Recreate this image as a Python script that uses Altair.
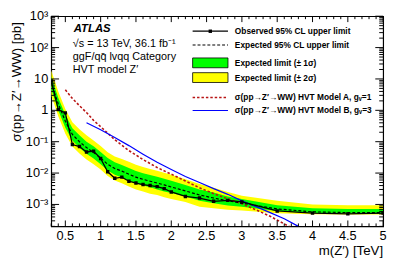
import altair as alt
import pandas as pd
import numpy as np

# ---------------- data ----------------
mass = [0.3, 0.4, 0.5, 0.6, 0.7, 0.8, 0.9, 1.0, 1.1, 1.2, 1.3, 1.4, 1.5, 1.6, 1.7,
        1.8, 1.9, 2.0, 2.2, 2.4, 2.6, 2.8, 3.0, 3.5, 4.0, 4.5, 5.0]
observed = [8.7, 1.05, 0.83, 0.081, 0.07, 0.047, 0.05, 0.029, 0.011, 0.0068, 0.0074,
            0.0055, 0.0048, 0.0043, 0.0040, 0.0037, 0.0032, 0.0025, 0.0018, 0.0016,
            0.00126, 0.00135, 0.0012, 0.00062, 0.00053, 0.00050, 0.00053]
expected = [7.5, 1.6, 0.45, 0.17, 0.10, 0.065, 0.045, 0.030, 0.019, 0.014, 0.0115,
            0.0092, 0.0074, 0.0063, 0.0055, 0.0048, 0.0042, 0.0036, 0.0027, 0.0020,
            0.0016, 0.0013, 0.0011, 0.00072, 0.00058, 0.00055, 0.00055]
minus2 = [3.0, 0.65, 0.18, 0.07, 0.042, 0.027, 0.019, 0.013, 0.008, 0.0058, 0.0047,
          0.0037, 0.0030, 0.0026, 0.0022, 0.0020, 0.0017, 0.0015, 0.0012, 0.00085,
          0.00075, 0.00068, 0.00064, 0.00052, 0.00049, 0.00048, 0.00048]
minus1 = [4.7, 1.0, 0.28, 0.11, 0.064, 0.041, 0.029, 0.019, 0.012, 0.0088, 0.0072,
          0.0058, 0.0047, 0.0040, 0.0035, 0.0030, 0.0026, 0.0023, 0.0018, 0.0013,
          0.0011, 0.00092, 0.00085, 0.00062, 0.00053, 0.00051, 0.00051]
plus1 = [12, 2.5, 0.72, 0.27, 0.16, 0.10, 0.071, 0.047, 0.030, 0.022, 0.018, 0.0145,
         0.0117, 0.0099, 0.0087, 0.0076, 0.0066, 0.0057, 0.0042, 0.0030, 0.0024,
         0.0018, 0.0015, 0.00095, 0.00075, 0.00072, 0.00072]
plus2 = [19, 4.0, 1.1, 0.42, 0.25, 0.16, 0.11, 0.073, 0.046, 0.034, 0.028, 0.023,
         0.0185, 0.0156, 0.0136, 0.0118, 0.0103, 0.0088, 0.0064, 0.0045, 0.0034,
         0.0025, 0.0019, 0.0013, 0.0010, 0.00095, 0.00095]

massA = [0.5, 0.6, 0.7, 0.8, 0.9, 1.0, 1.2, 1.4, 1.6, 1.8, 2.0, 2.2, 2.4, 2.6, 2.8,
         3.0, 3.2, 3.4, 3.6, 3.8]
xsecA = [4.5, 2.4, 1.4, 0.85, 0.48, 0.30, 0.115, 0.052, 0.027, 0.015, 0.0092, 0.0056,
         0.0034, 0.0022, 0.0015, 0.00105, 0.00067, 0.00042, 0.00024, 0.00014]

massB = [0.8, 1.0, 1.2, 1.4, 1.6, 1.8, 2.0, 2.2, 2.4, 2.6, 2.8, 3.0, 3.2, 3.4, 3.6, 3.8]
xsecB = [0.4, 0.24, 0.135, 0.075, 0.04, 0.022, 0.013, 0.0078, 0.005, 0.0032, 0.0021,
         0.0013, 0.00085, 0.00055, 0.00035, 0.0002]

x_label_values = [0.5, 1.0, 1.5, 2.0, 2.5, 3.0, 3.5, 4.0, 4.5, 5.0]
x_label_texts = ["0.5", "1", "1.5", "2", "2.5", "3", "3.5", "4", "4.5", "5"]
y_label_values = [1e-3, 1e-2, 1e-1, 1, 10, 100, 1000]
y_label_texts = ["10⁻³", "10⁻²", "10⁻¹", "1", "10", "10²", "10³"]

legend_labels = ["Observed 95% CL upper limit", "Expected 95% CL upper limit",
                 "Expected limit (± 1σ)", "Expected limit (± 2σ)",
                 "σ(pp→Z′→WW) HVT Model A, g\u1d65=1",
                 "σ(pp→Z′→WW) HVT Model B, g\u1d65=3"]
info_lines = ["√s = 13 TeV, 36.1 fb⁻¹", "ggF/qq̄ lvqq Category", "HVT model Z′"]

# ---------------- layout ----------------
W, H = 338, 214
FONT = "Liberation Sans"
XDOM = [0.3, 5.0]
YDOM = [2e-4, 1e3]

xs = alt.Scale(domain=XDOM, nice=False, zero=False)
ys = alt.Scale(type="log", domain=YDOM, nice=False)

df = pd.DataFrame(dict(m=mass, obs=observed, exp=expected, m2=minus2, m1=minus1,
                       p1=plus1, p2=plus2))
dfA = pd.DataFrame(dict(m=massA, s=xsecA))
dfB = pd.DataFrame(dict(m=massB, s=xsecB))
one = pd.DataFrame({"a": [0]})


def X(f):
    return alt.X(f, type="quantitative", scale=xs, axis=None)


def Y(f):
    return alt.Y(f, type="quantitative", scale=ys, axis=None)


yellow = alt.Chart(df).mark_area(color="#ffff00", clip=True).encode(
    x=X("m"), y=Y("p2"), y2="m2:Q")
green = alt.Chart(df).mark_area(color="#00ff00", clip=True).encode(
    x=X("m"), y=Y("p1"), y2="m1:Q")
exp_line = alt.Chart(df).mark_line(color="black", strokeDash=[3, 2], strokeWidth=1.2,
                                   clip=True).encode(x=X("m"), y=Y("exp"))
lineA = alt.Chart(dfA).mark_line(color="#b81414", strokeDash=[2.5, 2], strokeWidth=1.6,
                                 clip=True).encode(x=X("m"), y=Y("s"))
lineB = alt.Chart(dfB).mark_line(color="#0000ff", strokeWidth=1.2, clip=True).encode(
    x=X("m"), y=Y("s"))
obs_line = alt.Chart(df).mark_line(color="black", strokeWidth=1.3, clip=True).encode(
    x=X("m"), y=Y("obs"))
obs_pts = alt.Chart(df).mark_point(color="black", filled=True, size=12, opacity=1,
                                   shape="square", clip=True).encode(
    x=X("m"), y=Y("obs"))

# ---------------- inward ticks (ROOT style) ----------------
x_major = pd.DataFrame({"v": x_label_values})
x_minor = pd.DataFrame({"v": [round(v, 1) for v in np.arange(0.3, 5.0, 0.1)
                              if abs(round(v * 2) - v * 2) > 1e-6]})
y_major = pd.DataFrame({"v": y_label_values})
y_minor = pd.DataFrame({"v": [k * 10.0 ** d for d in range(-4, 3) for k in range(2, 10)
                              if YDOM[0] <= k * 10.0 ** d <= YDOM[1]]})


def xticks(d, length):
    b = alt.Chart(d).mark_rule(color="black", strokeWidth=1).encode(
        x=X("v"), y=alt.value(H), y2=alt.value(H - length))
    t = alt.Chart(d).mark_rule(color="black", strokeWidth=1).encode(
        x=X("v"), y=alt.value(0), y2=alt.value(length))
    return [b, t]


def yticks(d, length):
    l = alt.Chart(d).mark_rule(color="black", strokeWidth=1).encode(
        y=Y("v"), x=alt.value(0), x2=alt.value(length))
    r = alt.Chart(d).mark_rule(color="black", strokeWidth=1).encode(
        y=Y("v"), x=alt.value(W), x2=alt.value(W - length))
    return [l, r]


ticks = xticks(x_major, 6) + xticks(x_minor, 3) + yticks(y_major, 8) + yticks(y_minor, 4)

# ---------------- tick labels (through the scales) ----------------
xlab_df = pd.DataFrame({"v": x_label_values, "t": x_label_texts})
ylab_df = pd.DataFrame({"v": y_label_values, "t": y_label_texts})
xlabels = alt.Chart(xlab_df).mark_text(font="Liberation Sans", fontSize=13,
                                        color="black", baseline="middle",
                                        align="center").encode(
    x=X("v"), y=alt.value(H + 10), text="t:N")
ylabels = alt.Chart(ylab_df).mark_text(font="Liberation Sans", fontSize=13,
                                        color="black", baseline="middle",
                                        align="right").encode(
    y=Y("v"), x=alt.value(-3), text="t:N")


# ---------------- texts ----------------
def txt(s, x, y, size=11, weight="normal", style="normal", align="left", angle=0,
        baseline="alphabetic"):
    return alt.Chart(one).mark_text(text=s, font=FONT, fontSize=size, fontWeight=weight,
                                    fontStyle=style, align=align, angle=angle,
                                    baseline=baseline, color="black").encode(
        x=alt.value(x), y=alt.value(y))


texts = [
    txt("ATLAS", 23, 16.5, size=11.5, weight="bold", style="italic"),
    txt(info_lines[0], 22, 31, size=11),
    txt(info_lines[1], 22, 45, size=11),
    txt(info_lines[2], 22, 58, size=11),
    txt("σ(pp→Z′→WW) [pb]", -35, 6, size=13.5, align="right", angle=270,
        baseline="middle"),
    txt("m(Z′) [TeV]", W, 243, size=13.5, align="right"),
]

# ---------------- legend (hand-drawn) ----------------
LX0, LX1, TX = 144, 180, 187
rows = [15.3, 29.3, 47.5, 62.5, 82.7, 96]
leg = []
leg.append(alt.Chart(one).mark_rule(color="black", strokeWidth=1.3).encode(
    x=alt.value(LX0), x2=alt.value(LX1), y=alt.value(rows[0])))
leg.append(alt.Chart(one).mark_point(color="black", filled=True, size=12, opacity=1,
                                     shape="square").encode(
    x=alt.value((LX0 + LX1) / 2), y=alt.value(rows[0])))
leg.append(alt.Chart(one).mark_rule(color="black", strokeWidth=1.2,
                                    strokeDash=[3, 2]).encode(
    x=alt.value(LX0), x2=alt.value(LX1), y=alt.value(rows[1])))
leg.append(alt.Chart(one).mark_rect(color="#00ff00", stroke="black",
                                    strokeWidth=0.8).encode(
    x=alt.value(LX0), x2=alt.value(LX1), y=alt.value(rows[2] - 5),
    y2=alt.value(rows[2] + 5)))
leg.append(alt.Chart(one).mark_rect(color="#ffff00", stroke="black",
                                    strokeWidth=0.8).encode(
    x=alt.value(LX0), x2=alt.value(LX1), y=alt.value(rows[3] - 5),
    y2=alt.value(rows[3] + 5)))
leg.append(alt.Chart(one).mark_rule(color="#b81414", strokeWidth=1.6,
                                    strokeDash=[2.5, 2]).encode(
    x=alt.value(LX0), x2=alt.value(LX1), y=alt.value(rows[4])))
leg.append(alt.Chart(one).mark_rule(color="#0000ff", strokeWidth=1.2).encode(
    x=alt.value(LX0), x2=alt.value(LX1), y=alt.value(rows[5])))
for lab, ry in zip(legend_labels, rows):
    leg.append(txt(lab, TX, ry, size=8.5, weight="bold", baseline="middle"))

chart = alt.layer(yellow, green, lineA, lineB, exp_line, obs_line, obs_pts,
                  *ticks, xlabels, ylabels, *texts, *leg).properties(
    width=W, height=H,
    autosize=alt.AutoSizeParams(type="none"),
    padding={"left": 44, "top": 6, "right": 8, "bottom": 38},
).configure_view(stroke="black", strokeWidth=1.2)

chart.save("out.html", embed_options={"renderer": "svg", "actions": False})
